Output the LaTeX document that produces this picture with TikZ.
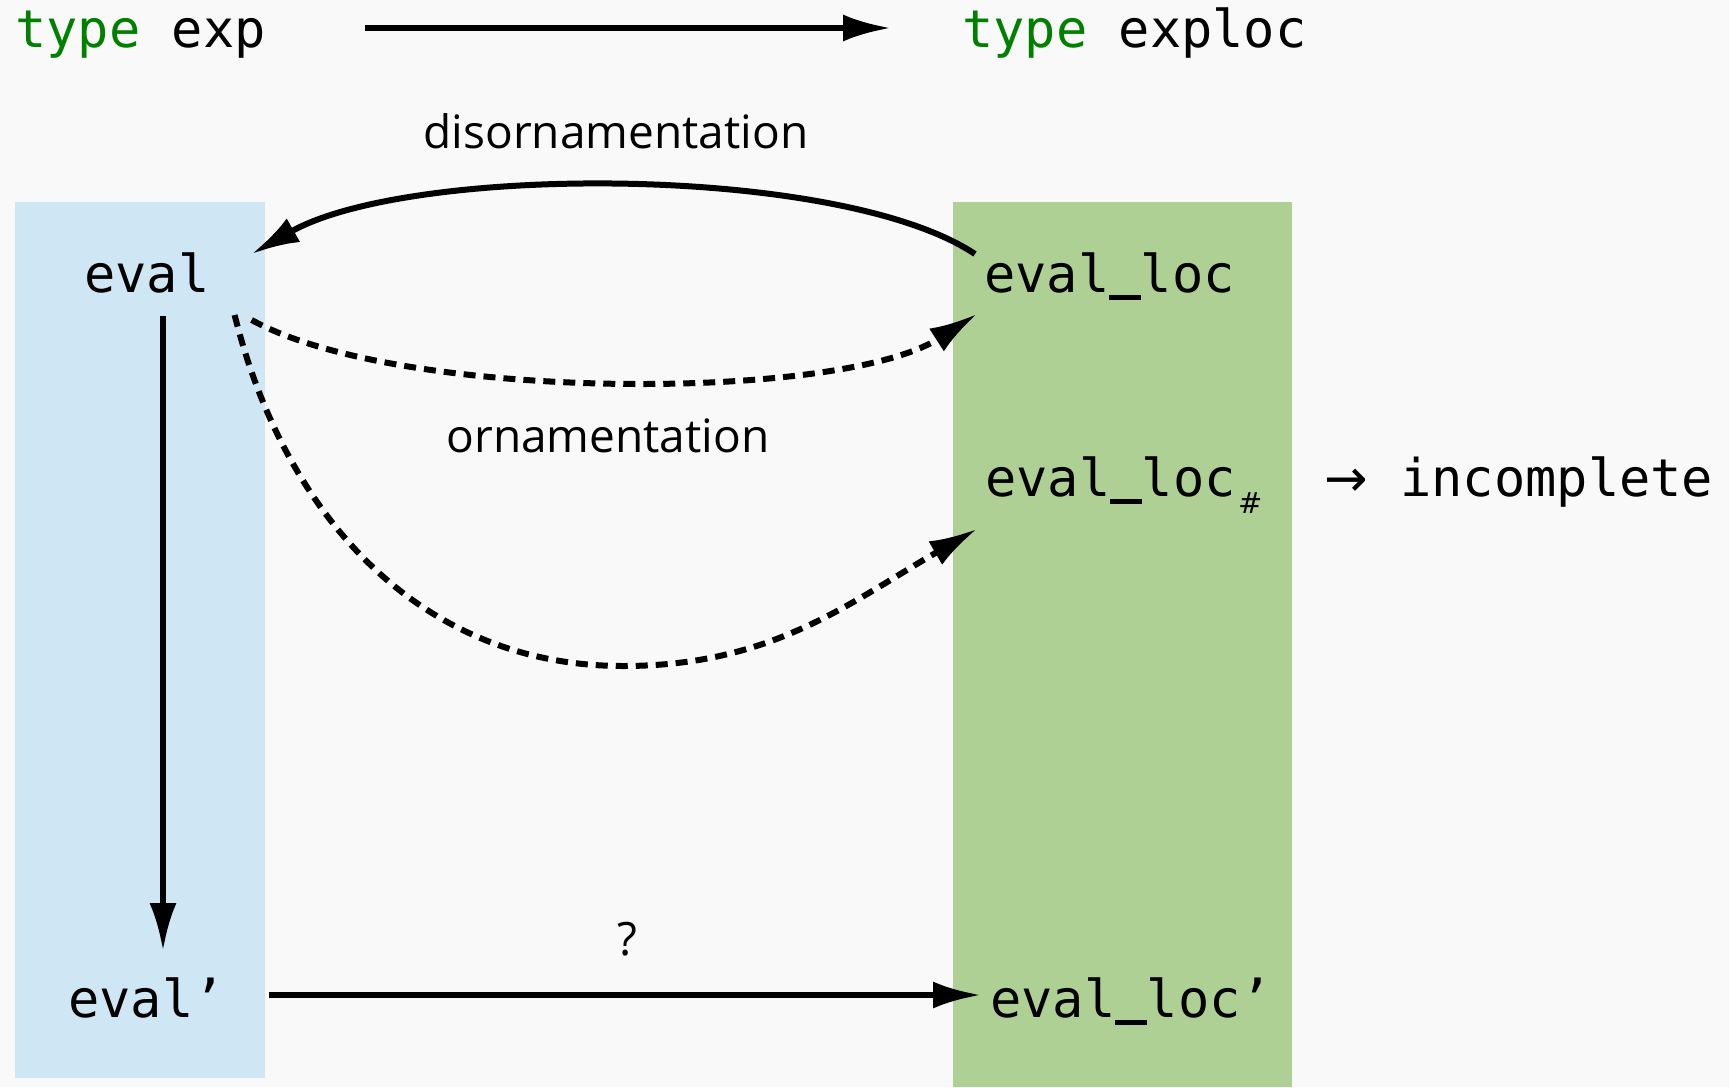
\documentclass[tikz,border=0pt]{standalone}
\usepackage{fontspec}
\setmainfont{Open Sans}
\newfontfamily\monofont{DejaVu Sans Mono}
\newfontfamily\arrowfont{DejaVu Sans}
\usetikzlibrary{arrows.meta}
\definecolor{bgc}{RGB}{249,249,249}
\definecolor{bluebox}{RGB}{207,230,244}
\definecolor{greenbox}{RGB}{175,208,149}
\definecolor{kwgreen}{RGB}{0,128,0}
\newcommand\uscore{\rule[-8pt]{31.3pt}{5pt}}
\tikzset{
  mono/.style={inner sep=0pt, font=\monofont\fontsize{52}{60}\selectfont, anchor=base west},
  lbl/.style={inner sep=0pt, font=\fontsize{46}{54}\selectfont, anchor=base},
  conn/.style={line width=6pt, -{Latex[length=48pt,width=27pt]}},
  dconn/.style={conn, dash pattern=on 12pt off 8pt},
  panel/.style={inner sep=0pt, draw=none, anchor=north west}
}
\begin{document}
\begin{tikzpicture}[x=1pt,y=-1pt]
\fill[bgc] (0,0) rectangle (1729,1087);
\useasboundingbox (0,0) rectangle (1729,1087);
% panels
\node[panel, fill=bluebox, minimum width=250pt, minimum height=876pt] (bluepanel) at (15,202) {};
\node[panel, fill=greenbox, minimum width=339pt, minimum height=885pt] (greenpanel) at (953,202) {};
% header
\node[mono] (texp) at (15,47) {\textcolor{kwgreen}{type} exp};
\node[mono] (texploc) at (962,47) {\textcolor{kwgreen}{type} exploc};
% main nodes
\node[mono] (eval) at (84,292) {eval};
\node[mono] (evalloc) at (984,292) {eval\uscore loc};
\node[mono] (evallochash) at (985,496) {eval\uscore loc{\arrowfont\fontsize{29}{30}\selectfont\kern3pt\raisebox{-17pt}{\#}}};
\node[mono] (incomplete) at (1324,496) {\makebox[76pt][l]{\arrowfont →}incomplete};
\node[mono] (evalp) at (68,1017) {eval’};
\node[mono] (evallocp) at (990,1017) {eval\uscore loc’};
% labels
\node[lbl] (dis) at (616,148) {disornamentation};
\node[lbl] (orn) at (608,452) {ornamentation};
\node[lbl] (q) at (627,955) {?};
% connectors
\draw[conn] ([xshift=99pt,yshift=19pt]texp.base east) -- ([xshift=-71pt,yshift=19pt]texploc.base west);
\draw[conn] ([xshift=-9pt,yshift=38pt]evalloc.base west) .. controls (840,164) and (410,164) .. ([xshift=42pt,yshift=38pt]eval.base east);
\draw[dconn] ([xshift=42pt,yshift=-28pt]eval.base east) .. controls (400,402) and (840,402) .. ([xshift=-7pt,yshift=-22pt]evalloc.base west);
\coordinate (dip) at (623,666);
\draw[dconn] ([xshift=25pt,yshift=-23pt]eval.base east) to[out=-76,in=180] (dip) to[out=0,in=-150] ([xshift=-8pt,yshift=-33pt]evallochash.base west);
\draw[conn] ([xshift=79pt,yshift=-24pt]eval.base west) -- ([xshift=95pt,yshift=66pt]evalp.base west);
\draw[conn] ([xshift=44pt,yshift=22pt]evalp.base east) -- ([xshift=-9pt,yshift=22pt]evallocp.base west);
\end{tikzpicture}
\end{document}
